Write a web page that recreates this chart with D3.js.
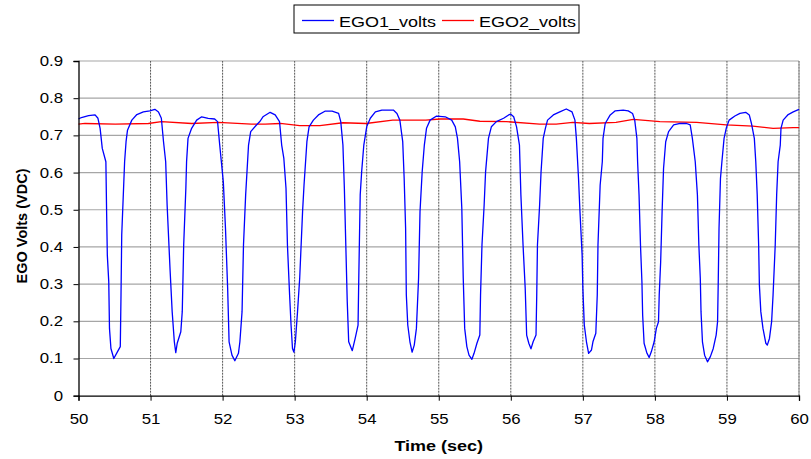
<!DOCTYPE html>
<html>
<head>
<meta charset="utf-8">
<script src="https://cdn.jsdelivr.net/npm/d3@7/dist/d3.min.js"></script>
<style>
  body { margin: 0; background: #fff; }
</style>
</head>
<body>
<script>
// EGO1 trace (time in sec, volts)
let ego1Time = [50.00,50.04,50.14,50.23,50.27,50.30,50.33,50.38,50.39,50.40,50.42,50.43,50.45,50.49,50.54,50.58,50.59,50.60,50.64,50.66,50.68,50.74,50.81,50.90,50.99,51.06,51.11,51.15,51.18,51.21,51.23,51.27,51.30,51.33,51.35,51.37,51.42,51.44,51.46,51.49,51.50,51.52,51.57,51.64,51.71,51.80,51.89,51.93,51.96,52.01,52.04,52.07,52.09,52.13,52.17,52.22,52.24,52.27,52.29,52.32,52.36,52.39,52.47,52.52,52.56,52.66,52.73,52.79,52.82,52.85,52.88,52.90,52.93,52.95,52.97,52.99,53.01,53.04,53.07,53.11,53.13,53.17,53.20,53.26,53.33,53.42,53.52,53.61,53.64,53.67,53.69,53.71,53.73,53.75,53.80,53.84,53.88,53.89,53.91,53.93,53.96,54.00,54.05,54.12,54.21,54.37,54.42,54.46,54.50,54.52,54.54,54.55,54.57,54.60,54.63,54.66,54.69,54.72,54.74,54.77,54.80,54.83,54.88,54.97,55.09,55.18,55.23,55.26,55.29,55.32,55.34,55.36,55.39,55.42,55.46,55.49,55.53,55.57,55.58,55.60,55.63,55.65,55.69,55.73,55.80,55.90,55.97,56.00,56.04,56.08,56.12,56.14,56.17,56.20,56.22,56.25,56.28,56.31,56.35,56.36,56.37,56.40,56.42,56.45,56.48,56.51,56.59,56.68,56.77,56.85,56.89,56.91,56.94,56.96,56.99,57.00,57.02,57.05,57.08,57.12,57.14,57.18,57.20,57.21,57.24,57.27,57.28,57.31,57.38,57.45,57.56,57.63,57.69,57.72,57.75,57.76,57.78,57.80,57.82,57.83,57.85,57.89,57.92,57.95,57.99,58.02,58.05,58.06,58.08,58.10,58.12,58.15,58.19,58.26,58.35,58.44,58.49,58.52,58.56,58.59,58.61,58.63,58.64,58.66,58.69,58.73,58.77,58.81,58.85,58.87,58.88,58.89,58.91,58.93,58.96,58.99,59.03,59.11,59.18,59.26,59.31,59.34,59.38,59.40,59.42,59.44,59.45,59.47,59.50,59.54,59.56,59.59,59.62,59.64,59.67,59.69,59.71,59.74,59.75,59.78,59.85,59.92,60.00];
let ego1Volts = [.744,.748,.753,.755,.746,.719,.665,.629,.495,.378,.306,.181,.127,.100,.118,.132,.271,.432,.629,.683,.714,.741,.756,.763,.766,.770,.763,.746,.683,.629,.513,.342,.226,.145,.116,.141,.172,.226,.405,.558,.629,.692,.719,.741,.750,.746,.744,.737,.674,.575,.450,.289,.145,.109,.094,.114,.145,.226,.405,.540,.674,.710,.728,.738,.750,.762,.755,.737,.674,.638,.558,.405,.271,.190,.127,.117,.145,.226,.316,.495,.566,.683,.723,.741,.755,.765,.765,.759,.737,.674,.558,.405,.253,.145,.121,.154,.190,.316,.540,.602,.674,.723,.746,.763,.768,.768,.759,.741,.683,.584,.450,.271,.190,.145,.117,.136,.181,.316,.495,.602,.674,.719,.741,.752,.750,.741,.723,.692,.629,.504,.316,.181,.132,.109,.098,.114,.141,.163,.271,.405,.513,.602,.692,.723,.737,.746,.755,.757,.750,.723,.674,.540,.405,.289,.163,.141,.126,.145,.163,.271,.405,.513,.602,.692,.719,.741,.755,.763,.771,.763,.741,.692,.584,.495,.378,.289,.190,.145,.114,.123,.145,.168,.271,.405,.566,.629,.692,.732,.755,.766,.768,.766,.759,.741,.692,.629,.540,.405,.306,.217,.141,.114,.103,.118,.145,.181,.199,.271,.360,.495,.611,.683,.710,.728,.732,.732,.728,.692,.629,.540,.405,.316,.226,.145,.109,.091,.105,.127,.163,.199,.316,.450,.584,.629,.692,.719,.741,.752,.759,.762,.755,.732,.692,.629,.540,.405,.298,.226,.181,.141,.136,.154,.199,.271,.405,.540,.629,.674,.719,.741,.756,.763,.770];

// EGO2 trace
let ego2Time = [50.00,50.09,50.51,50.97,51.15,51.57,51.94,52.40,52.59,52.80,53.07,53.35,53.67,53.99,54.36,54.82,55.02,55.34,55.57,55.94,56.40,56.63,56.86,57.09,57.46,57.70,58.07,58.58,58.99,59.36,59.64,59.92,60.00];
let ego2Volts = [.730,.732,.730,.732,.737,.732,.735,.730,.730,.732,.726,.726,.734,.732,.741,.741,.744,.744,.738,.737,.730,.730,.735,.732,.735,.743,.737,.735,.728,.725,.719,.721,.721];

let xTicks = [50,51,52,53,54,55,56,57,58,59,60];
let yTicks = [0,0.1,0.2,0.3,0.4,0.5,0.6,0.7,0.8,0.9];
let seriesNames = ["EGO1_volts","EGO2_volts"];
let seriesColors = ["#0000ff","#ff0000"];

let width = 811,
	height = 459;
let margin = {left: 78.5, right: 12, top: 61, bottom: 63.3};
let stretch = 1.2; // the text is a bit wider than plain Arial

let svg = d3.select("body")
			.append("svg")
			.attr("width", width)
			.attr("height", height)
			.attr("font-family", "'Liberation Sans', Arial, sans-serif")
			.attr("font-size", 14);

let x = d3.scaleLinear().domain([50, 60]).range([margin.left, width - margin.right]);
let y = d3.scaleLinear().domain([0, 0.9]).range([height - margin.bottom, margin.top]);

// horizontal gridlines
svg.append("g")
	.selectAll("line")
	.data(yTicks.slice(1))
	.enter().append("line")
	.attr("x1", x(50)).attr("x2", x(60))
	.attr("y1", d => y(d)).attr("y2", d => y(d))
	.attr("stroke", "#a6a6a6")
	.attr("stroke-width", 1.2);

// vertical gridlines (dashed)
svg.append("g")
	.selectAll("line")
	.data(xTicks.slice(1))
	.enter().append("line")
	.attr("x1", d => x(d)).attr("x2", d => x(d))
	.attr("y1", y(0)).attr("y2", y(0.9))
	.attr("stroke", "#555")
	.attr("stroke-width", 1)
	.attr("stroke-dasharray", "2,1");

// right border
svg.append("line")
	.attr("x1", x(60)).attr("x2", x(60))
	.attr("y1", y(0)).attr("y2", y(0.9))
	.attr("stroke", "#999");

let line = d3.line()
	.x(d => x(d[0]))
	.y(d => y(d[1]));

svg.append("path")
	.datum(d3.zip(ego2Time, ego2Volts))
	.attr("fill", "none")
	.attr("stroke", seriesColors[1])
	.attr("stroke-width", 1.3)
	.attr("d", line);

svg.append("path")
	.datum(d3.zip(ego1Time, ego1Volts))
	.attr("fill", "none")
	.attr("stroke", seriesColors[0])
	.attr("stroke-width", 1.3)
	.attr("stroke-linejoin", "round")
	.attr("d", line);

// axes
let xAxis = svg.append("g")
	.attr("transform", "translate(0," + y(0) + ")")
	.call(d3.axisBottom(x).tickValues(xTicks).tickFormat(d3.format("d")).tickSizeOuter(0).tickSize(5).tickPadding(13));

let yAxis = svg.append("g")
	.attr("transform", "translate(" + x(50) + ",0)")
	.call(d3.axisLeft(y).tickValues(yTicks).tickFormat(d => d === 0 ? "0" : d3.format(".1f")(d)).tickSizeOuter(0).tickSize(5).tickPadding(10));

[xAxis, yAxis].forEach(function(g) {
	g.selectAll("path.domain").attr("stroke", "#000").attr("stroke-width", 1.3);
	g.selectAll(".tick line").attr("stroke", "#000");
	g.selectAll(".tick text")
		.attr("fill", "#000")
		.attr("font-size", 14)
		.attr("font-family", "'Liberation Sans', Arial, sans-serif")
		.attr("transform", "scale(" + stretch + ",1)");
});
yAxis.selectAll(".tick text").attr("x", -15.5 / stretch);

// axis titles
svg.append("text")
	.attr("transform", "translate(" + ((x(50) + x(60)) / 2) + ",451) scale(" + stretch + ",1)")
	.attr("text-anchor", "middle")
	.attr("font-weight", "bold")
	.attr("font-size", 15)
	.text("Time (sec)");

svg.append("text")
	.attr("transform", "translate(26.5,226) rotate(-90)")
	.attr("text-anchor", "middle")
	.attr("font-weight", "bold")
	.attr("font-size", 14.5)
	.text("EGO Volts (VDC)");

// legend
let legend = svg.append("g").attr("transform", "translate(294,5)");
legend.append("rect")
	.attr("width", 285).attr("height", 28)
	.attr("fill", "#fff")
	.attr("stroke", "#000");

let legendX = [8, 148];
seriesNames.forEach(function(name, i) {
	legend.append("line")
		.attr("x1", legendX[i]).attr("x2", legendX[i] + 32)
		.attr("y1", 15.5).attr("y2", 15.5)
		.attr("stroke", seriesColors[i])
		.attr("stroke-width", 1.3);
	legend.append("text")
		.attr("transform", "translate(" + (legendX[i] + 37) + ",21.5) scale(" + stretch + ",1)")
		.attr("font-size", 15)
		.text(name);
});
</script>
</body>
</html>
